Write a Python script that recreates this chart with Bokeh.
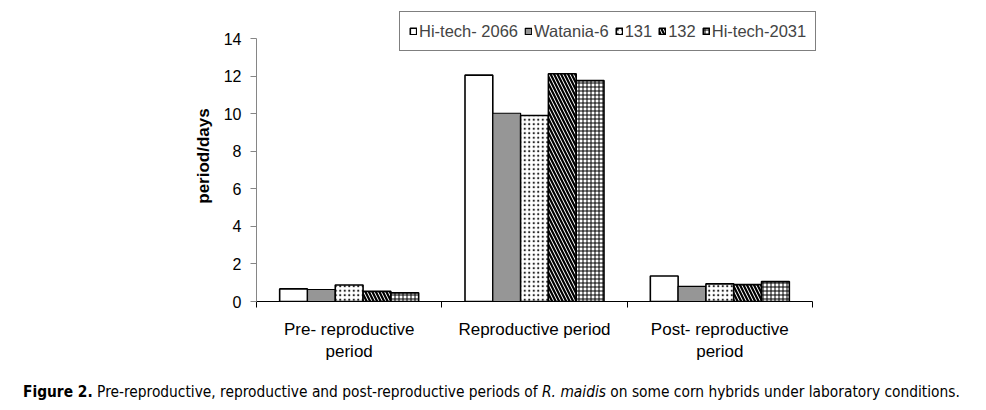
import numpy as np
from bokeh.plotting import figure
from bokeh.layouts import column
from bokeh.models import ColumnDataSource, FixedTicker, Legend, LegendItem, Range1d, Div
from bokeh.embed import file_html
from bokeh.resources import INLINE

categories = ["Pre- reproductive\nperiod", "Reproductive period", "Post- reproductive\nperiod"]
series = ["Hi-tech- 2066", "Watania-6", "131", "132", "Hi-tech-2031"]
hitech2066 = [0.67, 12.05, 1.36]
watania6 = [0.64, 10.02, 0.80]
h131 = [0.88, 9.90, 0.94]
h132 = [0.54, 12.12, 0.90]
hitech2031 = [0.46, 11.76, 1.06]
values = [hitech2066, watania6, h131, h132, hitech2031]
y_ticks = [0, 2, 4, 6, 8, 10, 12, 14]
caption_bold = "Figure 2."
caption_a = "Pre-reproductive, reproductive and post-reproductive periods of"
caption_it = "R. maidis"
caption_b = "on some corn hybrids under laboratory conditions."

W, H = 970, 370
FL, FR, FT, FB = 256, 830, 10, 301
AXR = 812
px_per_unit = (FB - 38) / 14.0
y_top = (FB - FT) / px_per_unit
x_top = 3 * (FR - FL) / (AXR - FL)

p = figure(width=W, height=H, output_backend="svg", toolbar_location=None,
           x_range=Range1d(0, x_top), y_range=Range1d(0, y_top),
           min_border_left=FL, min_border_right=W - FR,
           min_border_top=FT, min_border_bottom=H - FB)
p.outline_line_color = None
p.grid.visible = False

styles = [
    dict(fill_color="white", line_width=1.6),
    dict(fill_color="#969696", line_width=1.2),
    dict(fill_color="white", hatch_pattern="dot", hatch_scale=4.5, hatch_weight=1.0,
         hatch_color="#222222", line_width=1.6),
    dict(fill_color="white", hatch_pattern="left_diagonal_line", hatch_scale=7, hatch_weight=2.2,
         hatch_color="black", line_width=1.6),
    dict(fill_color="white", hatch_pattern="cross", hatch_scale=4, hatch_weight=1.0,
         hatch_color="black", line_width=1.6),
]

bw = 0.15
centers = np.arange(len(categories)) + 0.5
items = []
for i, (name, vals) in enumerate(zip(series, values)):
    src = ColumnDataSource(dict(x=centers + (i - 2) * bw, top=vals))
    r = p.vbar(x="x", top="top", bottom=0, width=bw, source=src, line_color="black", **styles[i])
    items.append(LegendItem(label=name, renderers=[r]))

xa = p.xaxis[0]
xa.ticker = FixedTicker(ticks=list(centers), minor_ticks=[0, 1, 2, 3])
xa.bounds = (0, 3)
xa.major_label_overrides = {float(c): lab for c, lab in zip(centers, categories)}
xa.major_tick_out = 0
xa.major_tick_in = 0
xa.minor_tick_out = 6
xa.minor_tick_in = 0
xa.axis_line_color = "black"
xa.minor_tick_line_color = "black"
xa.major_label_text_font = "Liberation Sans"
xa.major_label_text_font_size = "17px"
xa.major_label_text_color = "black"
xa.major_label_standoff = 12

ya = p.yaxis[0]
ya.ticker = FixedTicker(ticks=y_ticks, minor_ticks=[])
ya.bounds = (0, 14)
ya.axis_line_color = "#868686"
ya.major_tick_line_color = "#868686"
ya.major_tick_out = 6
ya.major_tick_in = 0
ya.major_label_text_font = "Liberation Sans"
ya.major_label_text_font_size = "16px"
ya.major_label_text_color = "black"
ya.major_label_standoff = 9
ya.axis_label = "period/days"
ya.axis_label_text_font = "Liberation Sans"
ya.axis_label_text_font_size = "17px"
ya.axis_label_text_font_style = "bold"
ya.axis_label_text_color = "black"
ya.axis_label_standoff = 8

legend = Legend(items=items, orientation="horizontal", location=(399 - FL, FB - 51),
                glyph_width=8, glyph_height=8, label_standoff=2, spacing=6,
                padding=9, margin=0, label_height=20,
                label_text_font="Liberation Sans", label_text_font_size="16.5px",
                border_line_color="black", border_line_width=1,
                background_fill_alpha=1.0)
p.add_layout(legend, "center")

cap_html = (
    '<div style="font-family: \'DejaVu Sans Condensed\', \'Liberation Sans Narrow\', \'Liberation Sans\', sans-serif;'
    ' font-size: 15.35px; line-height: 20px; white-space: nowrap; color: black;'
    ' padding-left: 18px; padding-top: 7px;">'
    f'<b>{caption_bold}</b> {caption_a} <i>{caption_it}</i> {caption_b}</div>'
)
cap = Div(text=cap_html, width=W, height=32)

layout = column(p, cap, spacing=0)
open("out.html", "w").write(file_html(layout, INLINE))
